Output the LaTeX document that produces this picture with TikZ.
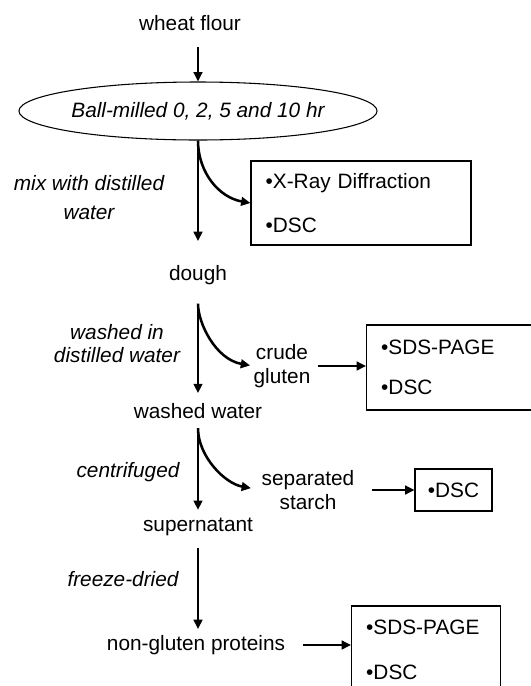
\documentclass[tikz,border=0pt]{standalone}
\usepackage{fontspec}
\setmainfont{Liberation Sans}
\usetikzlibrary{shapes.geometric,arrows.meta}

\begin{document}
\begin{tikzpicture}[x=0.75pt, y=-0.75pt,
    font=\fontsize{15.6}{17.6}\selectfont,
    stage/.style={inner sep=0pt, align=center},
    cond/.style={inner sep=0pt, align=center, font=\fontsize{15.6}{17.6}\selectfont\itshape},
    result/.style={draw, line width=0.8pt, inner xsep=11pt, align=left},
    flow/.style={line width=1.9pt, -{Triangle[length=7pt,width=6.5pt]}}]
    \useasboundingbox (0,0) rectangle (531,686);
    \clip (0,0) rectangle (531,686);

    % ノードの定義
    \node[stage] (wheat) at (190,23) {wheat flour};
    \node[ellipse, draw, line width=0.8pt, minimum width=264pt, minimum height=43.5pt, inner sep=0pt,
          font=\fontsize{15.6}{17.6}\selectfont\itshape] (ball) at (198,111) {Ball-milled 0, 2, 5 and 10 hr};
    \node[stage] (dough) at (198,275) {dough};
    \node[stage] (wwater) at (198,411) {washed water};
    \node[stage] (super) at (198,527) {supernatant};
    \node[stage] (ngp) at (196,645) {non-gluten proteins};
    \node[stage] (gluten) at (282,366) {crude\\gluten};
    \node[stage] (starch) at (308,490) {separated\\starch};

    % 処理条件
    \node[cond] (mixlbl) at (89,197.5) {mix with distilled\\[3.75pt]water};
    \node[cond] (washlbl) at (117,343.5) {washed in\\distilled water};
    \node[cond] (centlbl) at (128,472) {centrifuged};
    \node[cond] (freezelbl) at (123,579) {freeze-dried};

    % 分析の四角
    \node[result, text width=143pt, minimum height=63pt] (xrd) at (361,203) {•X-Ray Diffraction\\[15.4pt]•DSC};
    \node[result, text width=130pt, minimum height=63.75pt, anchor=west] (gluteni) at (366,367.5) {•SDS-PAGE\\[12.4pt]•DSC};
    \node[result, minimum width=57.75pt, minimum height=31.5pt, inner xsep=0pt, align=center] (starchi) at (453.5,490) {•DSC};
    \node[result, text width=89.75pt, minimum height=65.25pt, anchor=west] (ngpi) at (351,649.5) {•SDS-PAGE\\[16pt]•DSC};

    % 矢印
    \draw[flow, shorten <=12pt] (wheat.south -| ball.north) -- (ball.north);
    \draw[flow, shorten >=18pt] (ball.south) -- (dough.north);
    \draw[flow] (ball.south) to[out=-90, in=170] (xrd.west);
    \draw[flow, shorten <=14pt, shorten >=7.5pt] (dough.south) -- (wwater.north);
    \draw[flow, shorten <=14pt, shorten >=2.5pt] (dough.south) to[out=-90, in=170] (gluten.west);
    \draw[flow, shorten <=7pt, shorten >=6pt] (wwater.south) -- (super.north);
    \draw[flow, shorten <=7pt, shorten >=8pt] (wwater.south) to[out=-90, in=170] (starch.west);
    \draw[flow, shorten <=9pt, shorten >=4.5pt] (super.south) -- (super.south |- ngp.north);
    \draw[flow, shorten <=5.5pt] (gluten) -- (gluten -| gluteni.west);
    \draw[flow, shorten <=12.75pt] (starch) -- (starchi);
    \draw[flow, shorten <=13.5pt] (ngp) -- (ngp -| ngpi.west);
\end{tikzpicture}
\end{document}
